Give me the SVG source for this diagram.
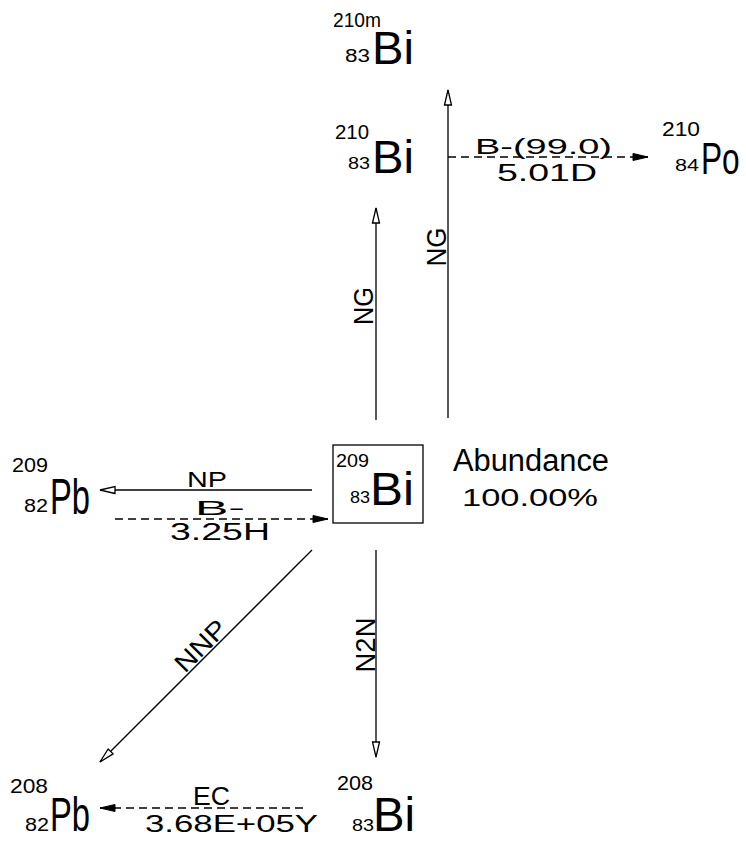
<svg xmlns="http://www.w3.org/2000/svg" width="746" height="841" viewBox="0 0 746 841">
<defs>
<style>
text{font-family:"Liberation Sans","DejaVu Sans",sans-serif;fill:#000;}
.c line{stroke:#000;stroke-width:1.3;fill:none;}
.d{stroke-dasharray:8 5;}
.box{fill:none;stroke:#000;stroke-width:1.3;}
</style>
<marker id="ho" viewBox="-1 -5 17 10" markerWidth="17" markerHeight="10" refX="15" refY="0" orient="auto" markerUnits="userSpaceOnUse">
<path d="M0,-3.5 L15,0 L0,3.5 Z" fill="#fff" stroke="#000" stroke-width="1.3"/>
</marker>
<marker id="fi" viewBox="-1 -5 17 10" markerWidth="17" markerHeight="10" refX="15" refY="0" orient="auto" markerUnits="userSpaceOnUse">
<path d="M0,-3.5 L15,0 L0,3.5 Z" fill="#000" stroke="#000" stroke-width="1"/>
</marker>
</defs>
<rect width="746" height="841" fill="#fff"/>

<g class="c" id="connectors">
<line x1="376" y1="420" x2="376" y2="208" marker-end="url(#ho)"/>
<line x1="448" y1="418" x2="448" y2="90" marker-end="url(#ho)"/>
<line class="d" x1="448" y1="157" x2="648" y2="157" marker-end="url(#fi)"/>
<line x1="312" y1="490" x2="100" y2="490" marker-end="url(#ho)"/>
<line class="d" x1="115" y1="519" x2="328" y2="519" marker-end="url(#fi)"/>
<line x1="312" y1="550" x2="100" y2="762" marker-end="url(#ho)"/>
<line x1="376" y1="550" x2="376" y2="757" marker-end="url(#ho)"/>
<line class="d" x1="303" y1="808" x2="100" y2="808" marker-end="url(#fi)"/>
</g>

<g id="labels">
<text x="475" y="154" font-size="22" textLength="137" lengthAdjust="spacingAndGlyphs">B-(99.0)</text>
<text x="497" y="181" font-size="24" textLength="100" lengthAdjust="spacingAndGlyphs">5.01D</text>
<text x="187" y="487" font-size="22" textLength="40" lengthAdjust="spacingAndGlyphs">NP</text>
<text x="195" y="515" font-size="21" textLength="50" lengthAdjust="spacingAndGlyphs">B-</text>
<text x="170" y="540" font-size="23" textLength="100" lengthAdjust="spacingAndGlyphs">3.25H</text>
<text x="193" y="805" font-size="25" textLength="37" lengthAdjust="spacingAndGlyphs">EC</text>
<text x="145" y="832" font-size="23" textLength="173" lengthAdjust="spacingAndGlyphs">3.68E+05Y</text>
<text transform="translate(373,306) rotate(-90)" text-anchor="middle" font-size="28" textLength="38" lengthAdjust="spacingAndGlyphs">NG</text>
<text transform="translate(446,247) rotate(-90)" text-anchor="middle" font-size="28" textLength="39" lengthAdjust="spacingAndGlyphs">NG</text>
<text transform="translate(375,645) rotate(-90)" text-anchor="middle" font-size="28" textLength="55" lengthAdjust="spacingAndGlyphs">N2N</text>
<text transform="translate(207,652) rotate(-45)" text-anchor="middle" font-size="26" textLength="62" lengthAdjust="spacingAndGlyphs">NNP</text>
</g>

<g id="bi210m">
<text x="333" y="27" font-size="20" textLength="48" lengthAdjust="spacingAndGlyphs">210m</text>
<text x="345" y="62" font-size="18" textLength="25" lengthAdjust="spacingAndGlyphs">83</text>
<text x="372" y="64" font-size="46" textLength="42" lengthAdjust="spacingAndGlyphs">Bi</text>
</g>

<g id="bi210">
<text x="335" y="139" font-size="20" textLength="34" lengthAdjust="spacingAndGlyphs">210</text>
<text x="348" y="169" font-size="17" textLength="22" lengthAdjust="spacingAndGlyphs">83</text>
<text x="372" y="173" font-size="46" textLength="42" lengthAdjust="spacingAndGlyphs">Bi</text>
</g>

<g id="po210">
<text x="662" y="136" font-size="20" textLength="38" lengthAdjust="spacingAndGlyphs">210</text>
<text x="675" y="171" font-size="17" textLength="24" lengthAdjust="spacingAndGlyphs">84</text>
<text transform="translate(701,174) scale(0.72,1)" font-size="44">Po</text>
</g>

<g id="bi209">
<rect class="box" x="333" y="445" width="90" height="78"/>
<text x="336" y="467" font-size="18" textLength="33" lengthAdjust="spacingAndGlyphs">209</text>
<text x="350" y="503" font-size="16" textLength="20" lengthAdjust="spacingAndGlyphs">83</text>
<text x="370" y="505" font-size="46" textLength="44" lengthAdjust="spacingAndGlyphs">Bi</text>
</g>

<g id="abundance">
<text x="453" y="471" font-size="31" textLength="156" lengthAdjust="spacingAndGlyphs">Abundance</text>
<text x="462" y="506" font-size="24" textLength="136" lengthAdjust="spacingAndGlyphs">100.00%</text>
</g>

<g id="pb209">
<text x="12" y="472" font-size="20" textLength="36" lengthAdjust="spacingAndGlyphs">209</text>
<text x="24" y="512" font-size="18" textLength="24" lengthAdjust="spacingAndGlyphs">82</text>
<text x="50" y="514" font-size="50" textLength="40" lengthAdjust="spacingAndGlyphs">Pb</text>
</g>

<g id="pb208">
<text x="10" y="793" font-size="20" textLength="38" lengthAdjust="spacingAndGlyphs">208</text>
<text x="25" y="831" font-size="18" textLength="24" lengthAdjust="spacingAndGlyphs">82</text>
<text x="50" y="831" font-size="48" textLength="40" lengthAdjust="spacingAndGlyphs">Pb</text>
</g>

<g id="bi208">
<text x="337" y="790" font-size="20" textLength="36" lengthAdjust="spacingAndGlyphs">208</text>
<text x="352" y="831" font-size="17" textLength="22" lengthAdjust="spacingAndGlyphs">83</text>
<text x="373" y="831" font-size="48" textLength="42" lengthAdjust="spacingAndGlyphs">Bi</text>
</g>
</svg>
